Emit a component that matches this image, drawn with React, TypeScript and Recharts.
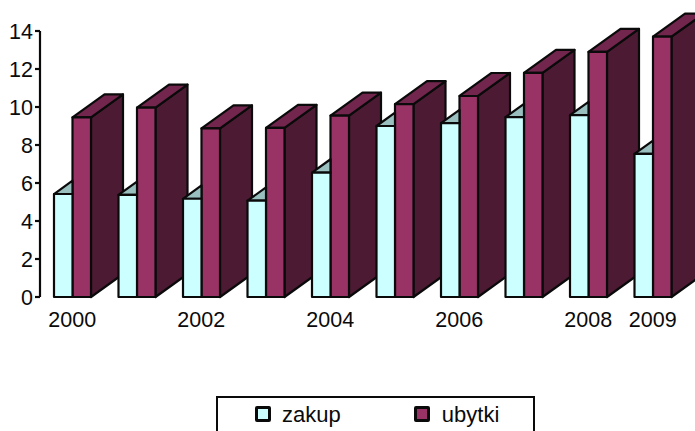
import { Bar, BarChart, Legend, XAxis, YAxis } from 'recharts'

const years = ['2000', '2001', '2002', '2003', '2004', '2005', '2006', '2007', '2008', '2009']
const zakup = [5.42, 5.37, 5.17, 5.07, 6.55, 9.0, 9.15, 9.47, 9.57, 7.53]
const ubytki = [9.45, 9.97, 8.87, 8.9, 9.55, 10.15, 10.58, 11.8, 12.9, 13.7]
const yTicks = [0, 2, 4, 6, 8, 10, 12, 14]
const shownYears = ['2000', '2002', '2004', '2006', '2008', '2009']

const chartData = years.map((year, i) => ({
  year,
  slot: 0,
  zakup: zakup[i],
  ubytki: ubytki[i],
}))

const DEPTH_X = 32
const DEPTH_Y = 23
const FONT = '"Liberation Sans", Arial, sans-serif'
const INK = '#0a0a0a'
const LINE = 2.2

const legendItems = [
  { name: 'zakup', fill: '#CCFFFF', width: 160 },
  { name: 'ubytki', fill: '#993366', width: 120 },
]

// ubytki: full box, front + top + side
function UbytkiBox({ x, y, width, height }: any) {
  const right = x + width
  const bottom = y + height
  return (
    <g stroke={INK} strokeWidth={LINE} strokeLinejoin="round">
      <polygon
        points={`${right},${y} ${right + DEPTH_X},${y - DEPTH_Y} ${right + DEPTH_X},${bottom - DEPTH_Y} ${right},${bottom}`}
        fill="#4D1A33"
      />
      <polygon
        points={`${x},${y} ${x + DEPTH_X},${y - DEPTH_Y} ${right + DEPTH_X},${y - DEPTH_Y} ${right},${y}`}
        fill="#73264D"
      />
      <rect x={x} y={y} width={width} height={height} fill="#993366" />
    </g>
  )
}

// zakup is painted after ubytki so it covers the previous year's side,
// only the part of its top left of its own ubytki bar can be seen
function ZakupBox({ x, y, width, height }: any) {
  const right = x + width
  const rise = (width * DEPTH_Y) / DEPTH_X
  return (
    <g stroke={INK} strokeWidth={LINE} strokeLinejoin="round">
      <polygon points={`${x},${y} ${right},${y - rise} ${right},${y}`} fill="#99BFBF" />
      <rect x={x} y={y} width={width} height={height} fill="#CCFFFF" />
    </g>
  )
}

function LegendBox() {
  return (
    <div
      style={{
        position: 'absolute',
        left: 216,
        top: 396,
        width: 319,
        height: 50,
        boxSizing: 'border-box',
        border: `2px solid ${INK}`,
        display: 'flex',
        paddingLeft: 37,
        fontFamily: FONT,
        fontSize: 22,
        color: INK,
      }}
    >
      {legendItems.map((item) => (
        <div key={item.name} style={{ width: item.width, display: 'flex', alignItems: 'flex-start', height: 30 }}>
          <span
            style={{
              width: 16,
              height: 16,
              marginTop: 8,
              marginRight: 11,
              boxSizing: 'border-box',
              border: `3px solid ${INK}`,
              borderRadius: 2,
              background: item.fill,
            }}
          />
          <span style={{ lineHeight: '33px', marginLeft: item.name === 'ubytki' ? 1 : 0 }}>{item.name}</span>
        </div>
      ))}
    </div>
  )
}

export default function App() {
  return (
    <div style={{ position: 'absolute', left: 0, top: 0, width: 695, height: 431, overflow: 'hidden', background: '#fff' }}>
      <BarChart
        width={695}
        height={431}
        data={chartData}
        margin={{ top: 31, right: 10, bottom: 104, left: 0 }}
        barSize={18.5}
        barGap={0}
      >
        <XAxis
          dataKey="year"
          ticks={shownYears}
          interval={0}
          axisLine={false}
          tickLine={false}
          height={30}
          tickMargin={9}
          tick={{ fill: INK, fontSize: 21.5, fontFamily: FONT }}
        />
        <YAxis
          width={40}
          domain={[0, 14]}
          ticks={yTicks}
          interval={0}
          axisLine={{ stroke: INK, strokeWidth: LINE }}
          tickLine={{ stroke: INK, strokeWidth: LINE }}
          tickSize={5}
          tickMargin={2}
          tick={{ fill: INK, fontSize: 21.5, fontFamily: FONT }}
        />
        <Bar dataKey="slot" stackId="left" legendType="none" shape={() => <g />} isAnimationActive={false} />
        <Bar dataKey="ubytki" stackId="right" shape={UbytkiBox} isAnimationActive={false} />
        <Bar dataKey="zakup" stackId="left" shape={ZakupBox} isAnimationActive={false} />
        <Legend content={() => <LegendBox />} wrapperStyle={{ position: 'static' }} />
      </BarChart>
    </div>
  )
}
